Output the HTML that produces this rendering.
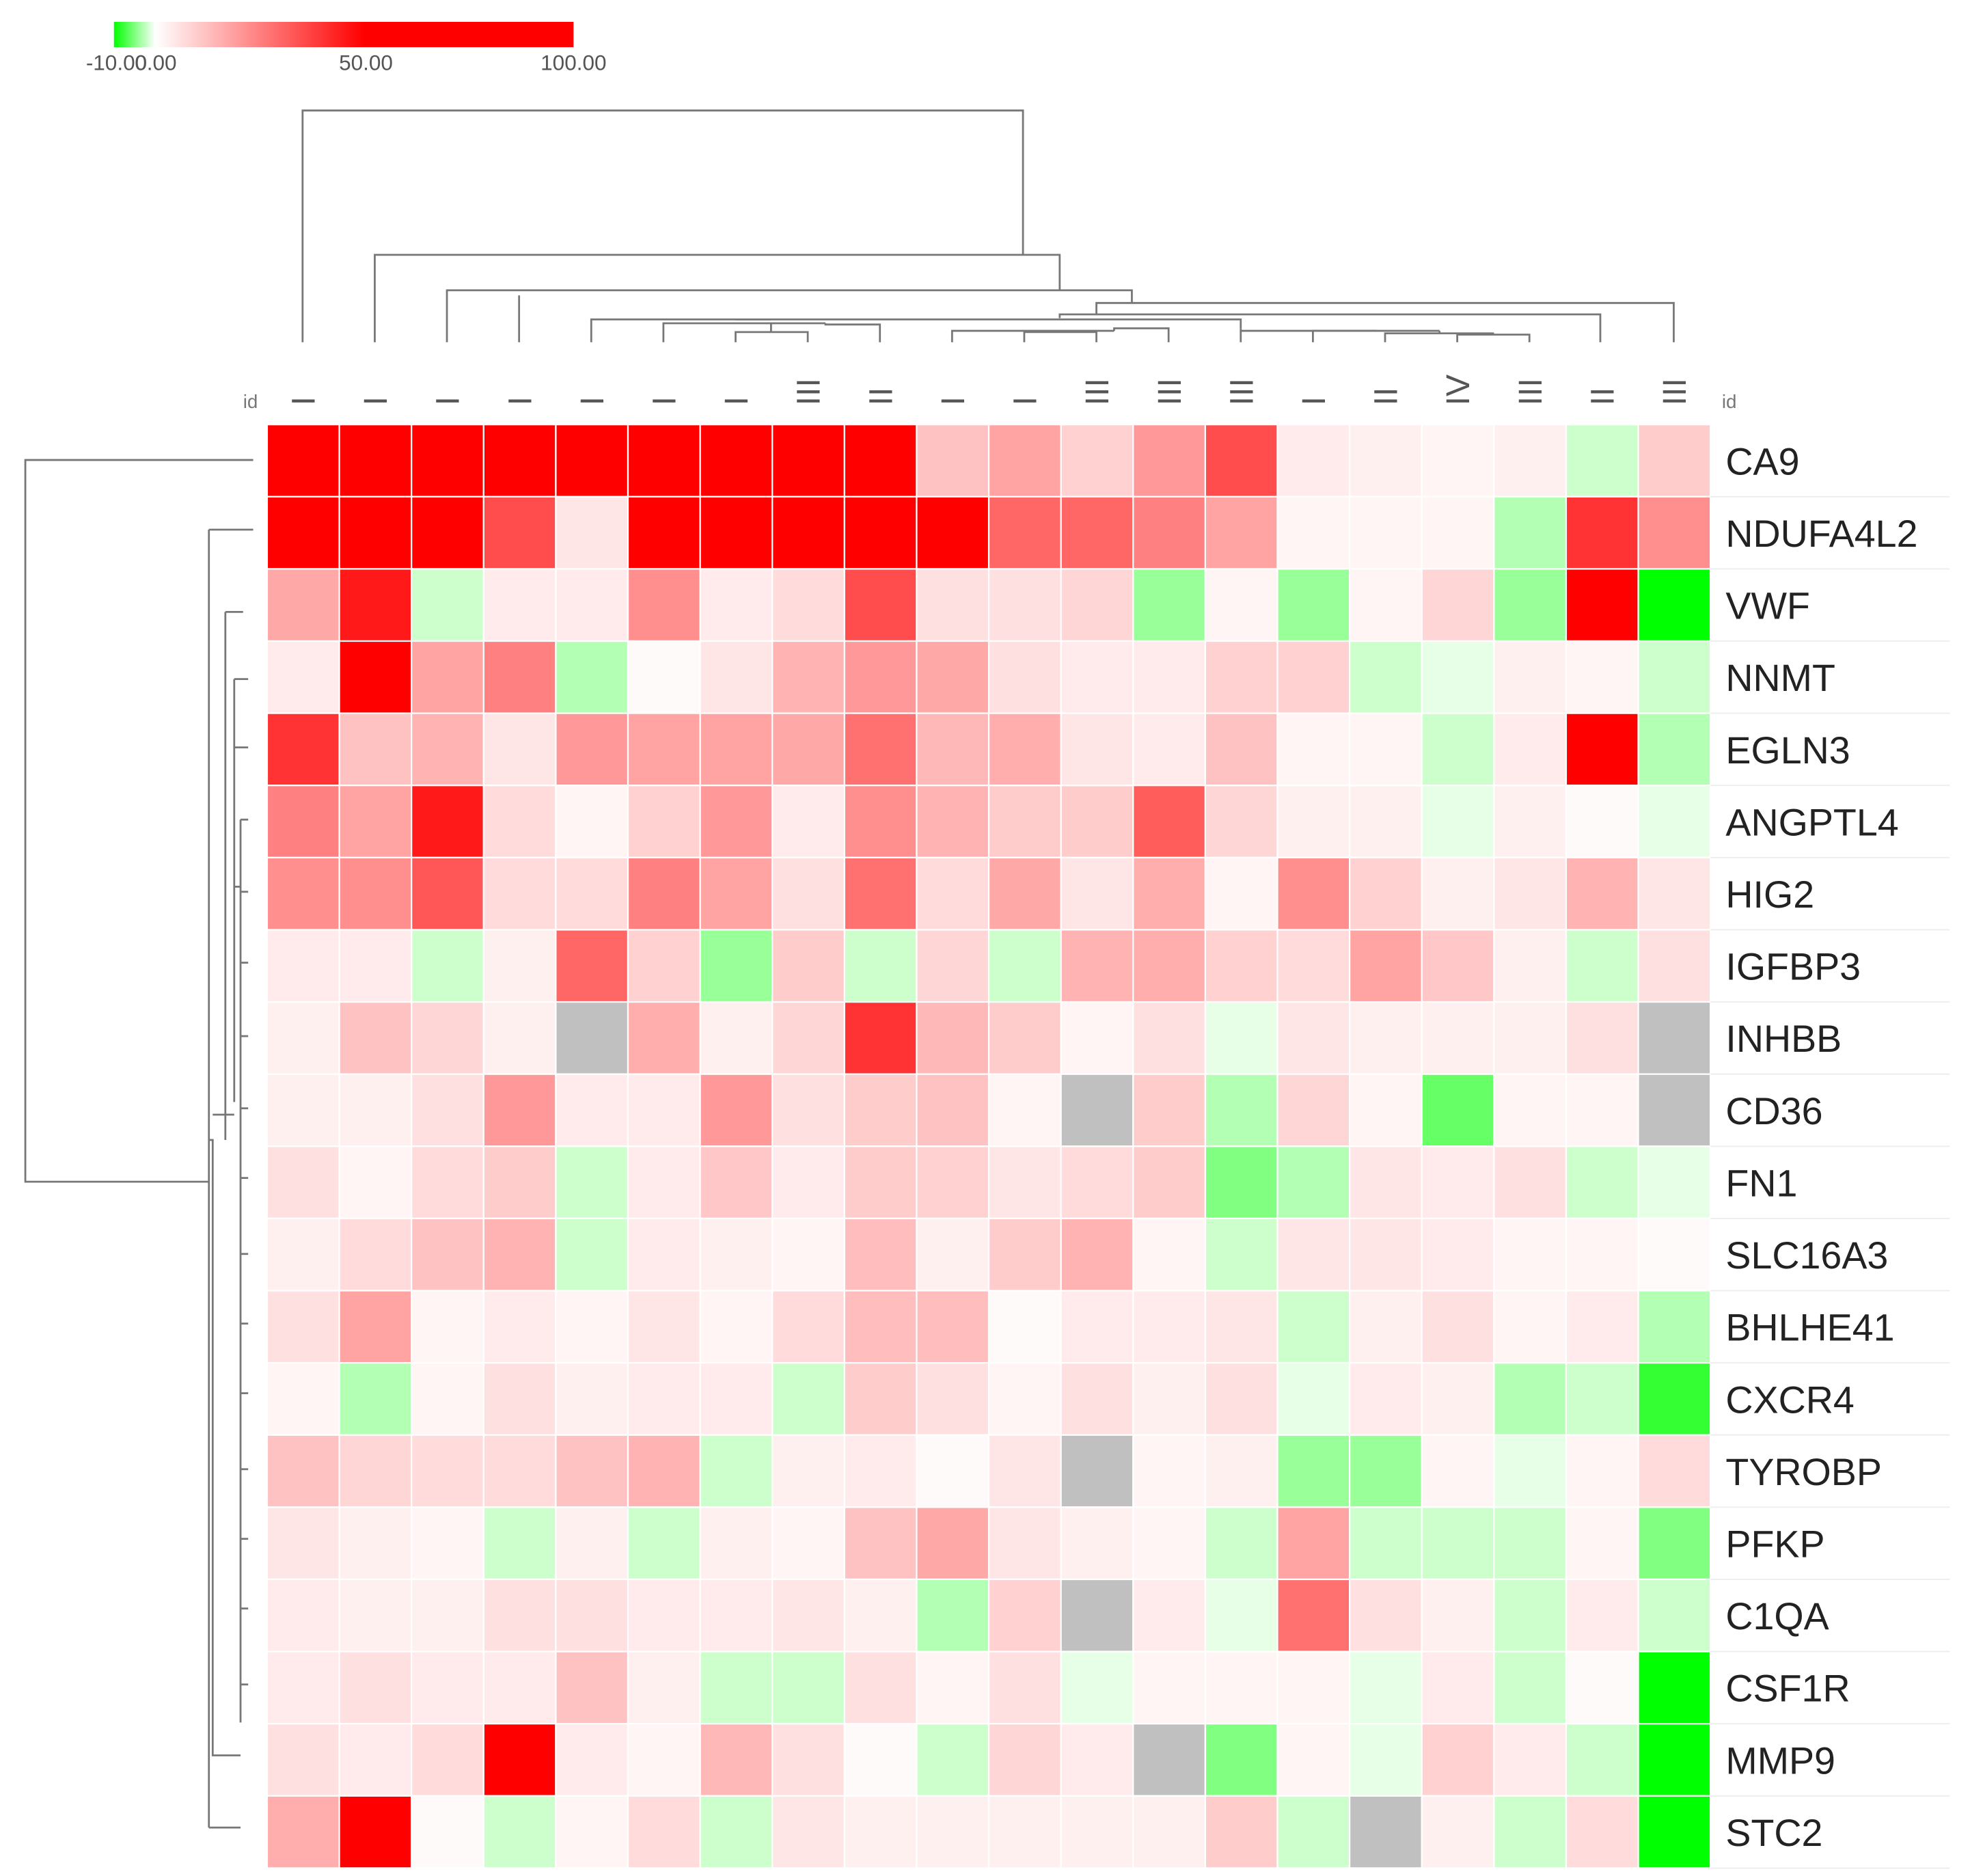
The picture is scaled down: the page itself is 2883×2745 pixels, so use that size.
<!DOCTYPE html>
<html><head><meta charset="utf-8"><style>
html,body{margin:0;padding:0;background:#fff;}
svg{display:block;}
text{font-family:"Liberation Sans",Arial,sans-serif;}
</style></head><body>
<svg id="chart" width="2883" height="2745" viewBox="0 0 1556 1481" xmlns="http://www.w3.org/2000/svg">
<defs>
<linearGradient id="cbg" x1="0" x2="1" y1="0" y2="0">
<stop offset="0" stop-color="#00ff00"/>
<stop offset="0.09" stop-color="#ffffff"/>
<stop offset="0.545" stop-color="#ff0000"/>
<stop offset="1" stop-color="#ff0000"/>
</linearGradient>
</defs>
<g>
<rect x="90" y="17" width="363" height="20" fill="url(#cbg)"/>
<text x="92" y="55" font-size="17" fill="#555" text-anchor="middle">-10.00</text>
<text x="123" y="55" font-size="17" fill="#555" text-anchor="middle">0.00</text>
<text x="289" y="55" font-size="17" fill="#555" text-anchor="middle">50.00</text>
<text x="453" y="55" font-size="17" fill="#555" text-anchor="middle">100.00</text>
</g>
<g id="dendro" stroke="#777" stroke-width="1.5" fill="none"></g>
<g id="cells"></g>
<g id="labels"></g>
</svg>
<script>
const genes = ["CA9","NDUFA4L2","VWF","NNMT","EGLN3","ANGPTL4","HIG2","IGFBP3","INHBB","CD36","FN1","SLC16A3","BHLHE41","CXCR4","TYROBP","PFKP","C1QA","CSF1R","MMP9","STC2"];
const stages = ["I","I","I","I","I","I","I","III","II","I","I","III","III","III","I","II","IV","III","II","III"];
const values = [
[100,100,100,100,100,100,100,90,100,12,18,9,20,35,4,3,2,3,-2,10],
[100,100,100,35,5,100,90,100,100,95,30,30,25,18,2,2,2,-3,40,22],
[17,45,-2,4,4,22,4,7,35,6,6,8,-4,2,-4,2,8,-4,100,-10],
[4,100,18,25,-3,1,5,15,20,17,6,4,4,9,9,-2,-1,3,2,-2],
[40,12,15,5,20,18,18,17,28,14,16,5,4,12,2,2,-2,4,100,-3],
[25,18,45,7,2,9,20,4,22,15,10,10,32,8,3,3,-1,3,1,-1],
[22,22,33,7,7,25,18,6,28,7,17,5,16,2,22,9,3,5,15,5],
[4,4,-2,3,30,9,-4,10,-2,8,-2,15,16,9,7,18,11,3,-2,6],
[3,12,8,3,null,16,3,8,40,14,10,2,6,-1,5,3,3,3,6,null],
[3,3,6,20,4,4,20,6,10,12,2,null,10,-3,8,2,-6,2,2,null],
[6,2,7,10,-2,4,11,4,10,9,5,7,10,-5,-3,5,4,6,-2,-1],
[3,7,12,15,-2,4,3,2,13,3,10,15,2,-2,5,5,4,2,2,1],
[6,18,2,4,2,5,2,7,13,13,1,4,4,5,-2,3,6,2,4,-3],
[2,-3,2,6,3,4,4,-2,10,6,2,6,3,6,-1,4,3,-3,-2,-8],
[12,8,7,7,12,15,-2,3,4,1,5,null,2,3,-4,-4,2,-1,2,7],
[5,3,2,-2,3,-2,3,2,12,17,5,3,2,-2,18,-2,-2,-2,2,-5],
[4,3,3,6,6,4,4,5,3,-3,9,null,4,-1,28,6,3,-2,4,-2],
[4,6,4,4,12,3,-2,-2,6,2,6,-1,2,2,2,-1,4,-2,1,-10],
[6,4,7,100,4,2,14,6,1,-2,8,4,null,-5,2,-1,9,4,-2,-10],
[16,100,1,-2,2,7,-2,5,3,3,3,3,3,10,-2,null,3,-2,7,-10]
];
const NS="http://www.w3.org/2000/svg";
const X0=211, Y0=335, CW=57, CH=57;
function xPos(i){return X0+i*CW;}
function yPos(j){return Y0+j*CH;}
function color(v){
  if(v===null) return "#c0c0c0";
  if(v<0){const t=Math.min(-v/10,1);const c=Math.round(255*(1-t));return `rgb(${c},255,${c})`;}
  const t=Math.min(v/50,1);const c=Math.round(255*(1-t));return `rgb(255,${c},${c})`;
}
const cells=document.getElementById('cells');
const labels=document.getElementById('labels');
values.forEach((row,j)=>{
  row.forEach((v,i)=>{
    const r=document.createElementNS(NS,'rect');
    r.setAttribute('x',xPos(i));r.setAttribute('y',yPos(j));
    r.setAttribute('width',CW);r.setAttribute('height',CH);
    r.setAttribute('fill',color(v));r.setAttribute('stroke','#fff');r.setAttribute('stroke-width','1.2');
    
    
    cells.appendChild(r);
  });
  const ln=document.createElementNS(NS,'line');
  ln.setAttribute('x1',X0+20*CW);ln.setAttribute('x2',1540);
  ln.setAttribute('y1',yPos(j+1));ln.setAttribute('y2',yPos(j+1));
  ln.setAttribute('stroke','#eee');ln.setAttribute('stroke-width','1');
  
  
  labels.appendChild(ln);
  const t=document.createElementNS(NS,'text');
  t.setAttribute('x',1363);t.setAttribute('y',yPos(j)+CH/2+11);
  t.setAttribute('font-size','30');t.setAttribute('fill','#222');
  t.textContent=genes[j];
  
  
  labels.appendChild(t);
});
stages.forEach((s,i)=>{
  const cx=xPos(i)+CW/2;
  const t=document.createElementNS(NS,'text');
  t.setAttribute('transform',`translate(${cx+9},320) rotate(-90)`);
  t.setAttribute('font-size','26');t.setAttribute('fill','#555');
  t.textContent=s;
  
  
  labels.appendChild(t);
});
[[192,'id-label-left'],[1360,'id-label-right']].forEach(([x,n])=>{
  const t=document.createElementNS(NS,'text');
  t.setAttribute('x',x);t.setAttribute('y',322);t.setAttribute('font-size','15');t.setAttribute('fill','#777');
  t.textContent='id';
  
  
  labels.appendChild(t);
});
const segs=[
"M239,270V87H808V201","M296,270V201H837V229","M353,270V229H894V239","M410,270V233",
"M866,248V239H1322V270","M837,251V248H1264V270",
"M581,252H980V259","M467,270V252H609","M524,270V255H652","M609,255V262","M581,270V262H638V270","M652,255V256H695V270","M609,256V255",
"M752,270V261H880","M809,270V262H866V270","M837,262V261","M880,261V259H923V270","M980,259V261H1087","M980,270V261",
"M1037,270V261H1137","M1094,270V263H1180","M1137,261V263","M1151,270V264H1208V270",
"M200,363H20V933H165","M165,418V1443","M165,418H200","M165,1443H190","M165,900H168V1386H190",
"M168,880H178","M178,483V900","M178,483H192","M178,880H185","M185,536V870","M185,536H196","M185,590H196","M185,700H190","M190,647V1360","M190,647H196","M190,704H196","M190,760H196","M190,818H196","M190,875H196","M190,930H196","M190,990H196","M190,1045H196","M190,1100H196","M190,1160H196","M190,1215H196","M190,1270H196","M190,1330H196"
];
const dg=document.getElementById('dendro');
segs.forEach((d,k)=>{
  const p=document.createElementNS(NS,'path');
  p.setAttribute('d',d);
  
  
  dg.appendChild(p);
});
</script>
</body></html>
